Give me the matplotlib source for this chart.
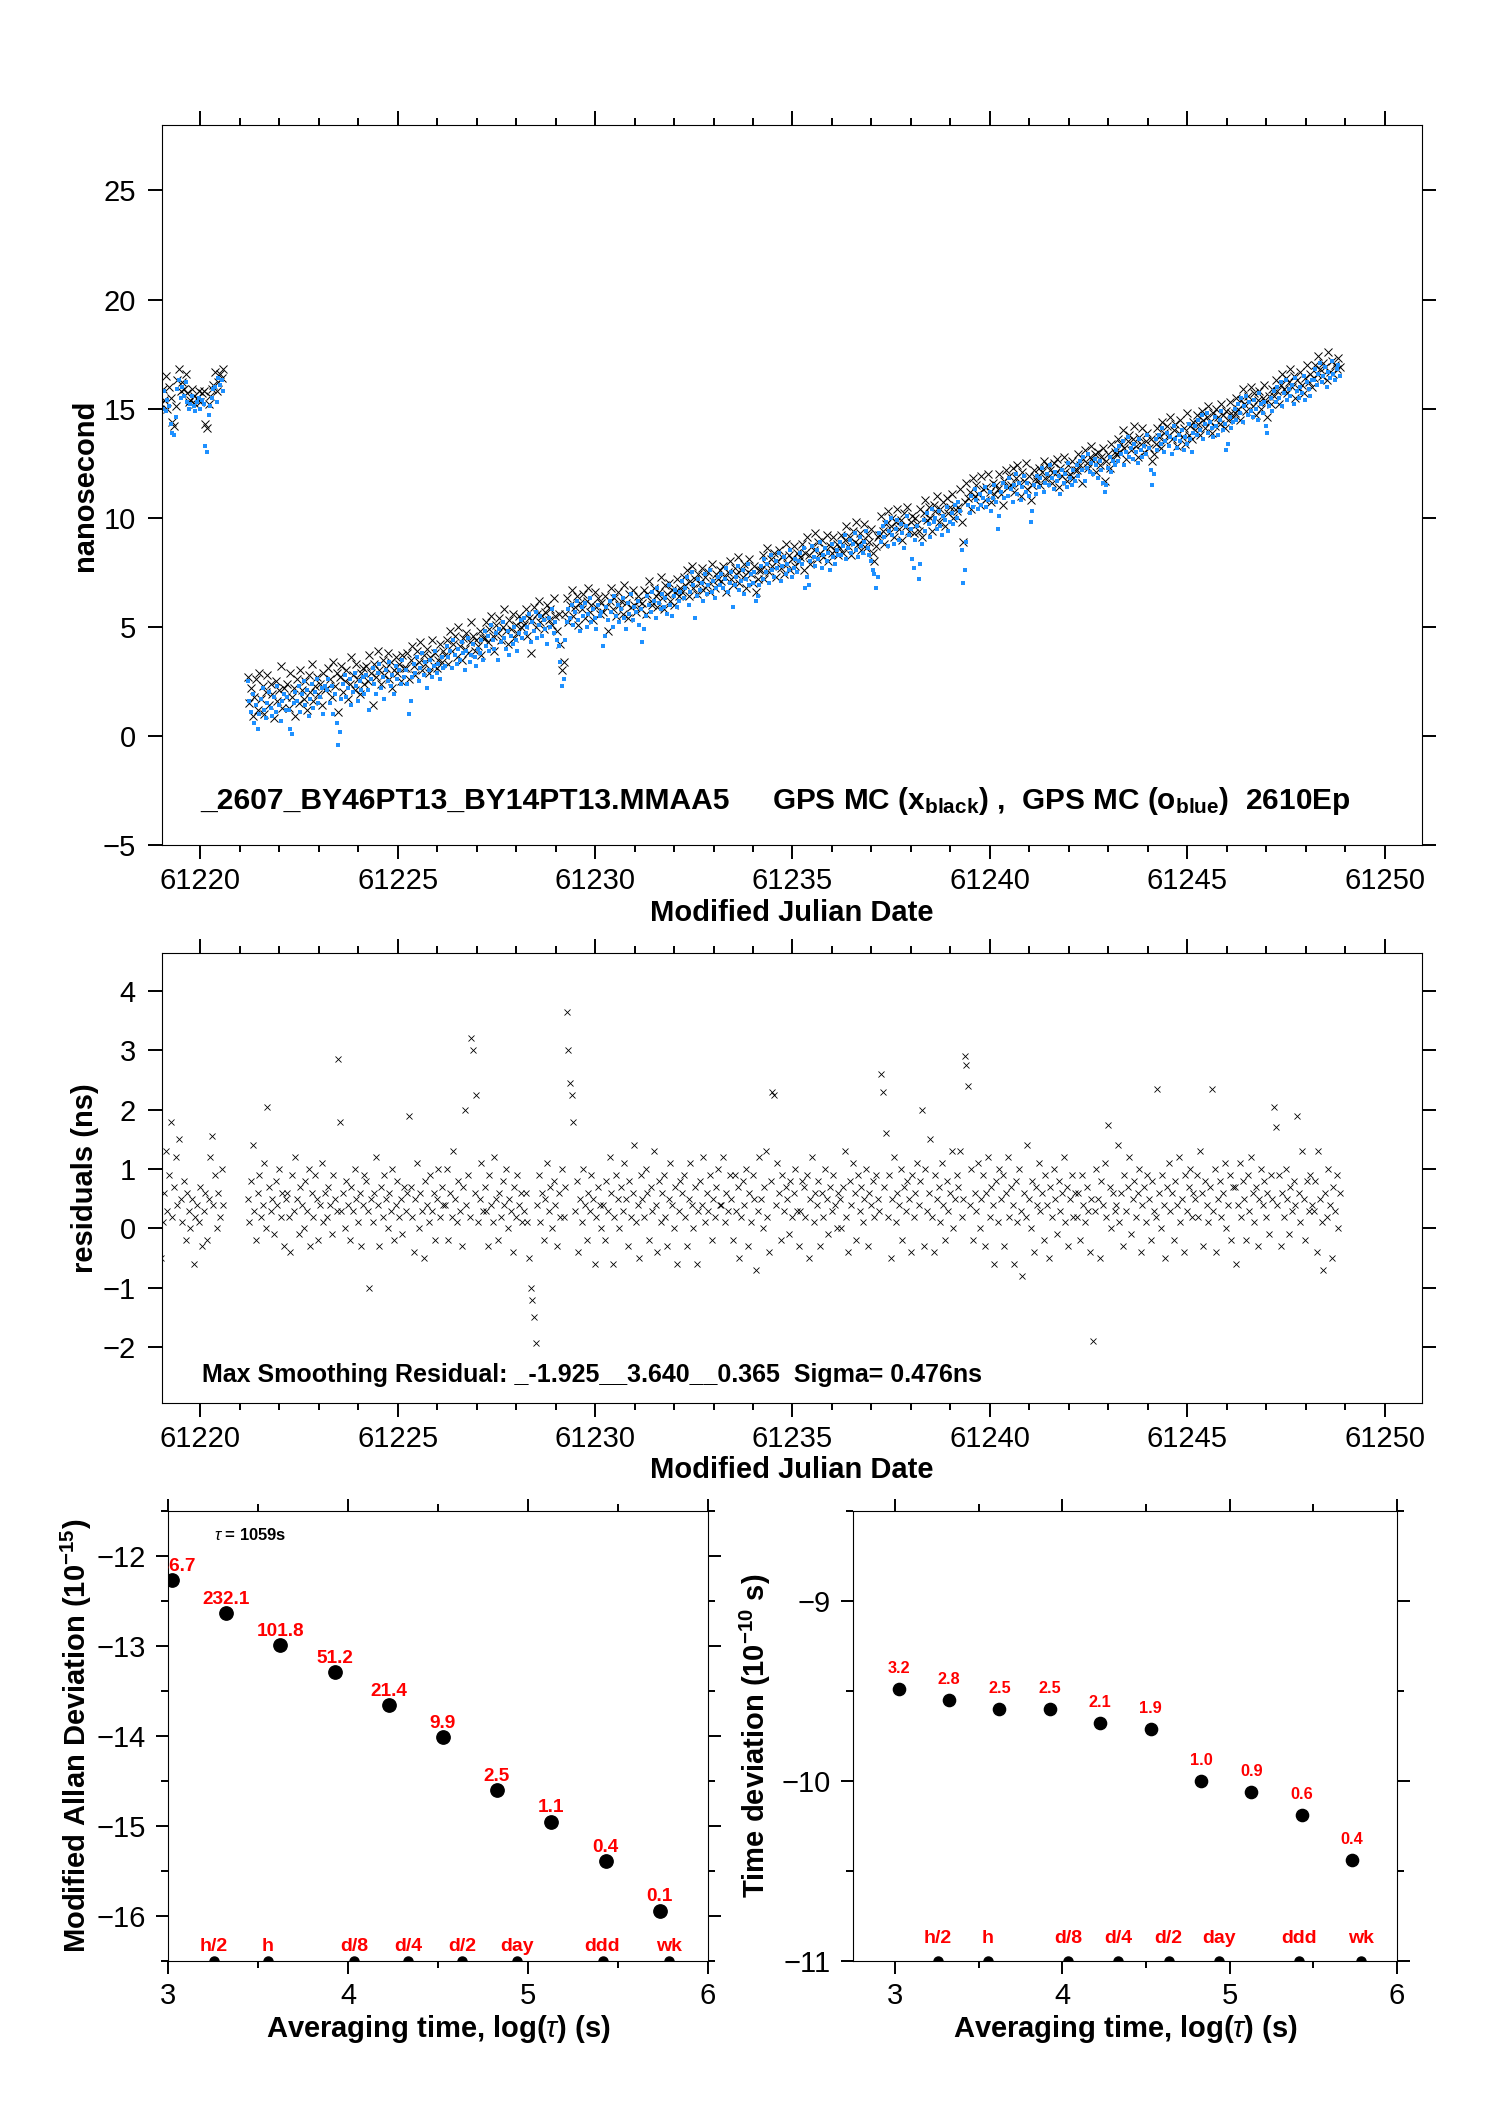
#!/usr/bin/python3

import numpy as np
import matplotlib
matplotlib.use('Agg')
import matplotlib.pyplot as plt
from matplotlib.ticker import MultipleLocator


# spacing of the plotted samples (days)
step_days = 1.0 / 24.0

# short first run, MJD 61219.0 - 61220.6 (ns)
run1_start = 61219.0
run1_black = [15.2, 15.9, 15.4, 16.5, 15.0, 16.0, 15.5, 14.4, 14.2, 15.1, 16.3, 16.8, 15.8,
              16.2, 15.9, 16.6, 15.7, 15.3, 15.4, 15.9, 15.6, 15.2, 15.5, 15.8, 15.3, 15.7,
              15.8, 14.3, 14.1, 15.2, 15.6, 15.9, 16.1, 16.7, 15.8, 16.2, 16.6, 16.4, 16.8]
run1_blue = [15.6, 15.0, 15.8, 14.9, 15.4, 15.1, 14.3, 13.9, 13.8, 14.6, 15.9, 16.3, 15.5,
             16.0, 15.6, 16.2, 15.3, 15.0, 15.2, 15.6, 15.1, 14.9, 15.3, 15.5, 15.0, 15.4,
             15.2, 13.3, 13.0, 14.7, 15.1, 15.5, 15.9, 16.0, 15.3, 16.4, 16.1, 16.3, 15.8]
run1_resid = [-0.5, 0.1, 0.6, 1.3, 0.3, 0.9, 1.8, 0.2, 0.7, 1.2, 0.4, 1.5, 0.5,
              0.1, 0.8, -0.2, 0.6, 0.3, 0.0, 0.5, -0.6, 0.2, 0.4, 0.1, 0.7, -0.3,
              0.3, 0.6, -0.2, 0.5, 1.2, 1.55, 0.4, 0.9, 0.0, 0.6, 0.2, 1.0, 0.4]

# main run, MJD 61221.2 - 61248.9 (ns), one row per day
run2_start = 61221.2
run2_black = [
    2.7, 1.5, 2.2, 0.9, 1.8, 2.6, 1.2, 2.9, 1.7, 2.3, 1.0, 2.0, 2.8, 1.4, 2.4, 1.9, 0.8, 2.5, 1.6, 2.1, 3.2, 1.3, 2.2, 1.8,
    2.4, 1.3, 2.9, 1.8, 2.2, 0.9, 2.6, 1.5, 3.0, 2.1, 1.7, 2.5, 1.2, 2.8, 2.0, 3.3, 1.6, 2.3, 2.7, 1.9, 2.4, 1.4, 2.9, 2.1,
    2.2, 3.1, 2.6, 1.8, 3.4, 2.3, 2.9, 1.1, 2.7, 3.2, 2.0, 2.5, 3.0, 1.7, 2.4, 3.6, 2.8, 2.1, 3.3, 2.6, 1.9, 2.9, 3.1, 2.4,
    3.2, 2.5, 3.7, 2.9, 1.4, 3.3, 2.7, 3.9, 3.0, 2.4, 3.5, 2.8, 3.1, 3.8, 2.6, 3.4, 2.2, 3.0, 3.6, 2.9, 3.3, 2.5, 3.7, 3.1,
    3.1, 3.8, 2.6, 3.5, 4.1, 3.2, 2.8, 3.9, 3.4, 4.3, 3.0, 3.7, 3.3, 4.0, 2.9, 3.6, 4.4, 3.2, 3.8, 3.1, 3.5, 4.2, 3.4, 3.9,
    3.7, 4.4, 3.3, 4.8, 3.9, 4.2, 4.6, 3.6, 5.0, 4.1, 3.5, 4.5, 4.0, 4.7, 3.8, 4.3, 5.2, 4.6, 3.9, 4.4, 4.1, 4.8, 3.7, 4.5,
    4.5, 5.2, 4.3, 4.9, 5.5, 4.6, 3.9, 5.1, 4.7, 5.4, 4.4, 5.0, 5.8, 4.8, 4.2, 5.3, 4.9, 5.6, 4.5, 5.1, 4.7, 5.5, 5.0, 5.3,
    5.1, 5.8, 4.6, 5.4, 3.8, 5.3, 5.9, 5.0, 5.6, 6.2, 5.2, 5.5, 4.9, 5.7, 6.0, 5.3, 5.8, 5.1, 6.3, 5.5, 4.8, 5.6, 4.2, 3.0,
    3.4, 5.6, 6.3, 5.2, 6.0, 6.7, 5.5, 5.9, 6.4, 5.1, 6.1, 5.8, 6.5, 5.4, 6.2, 6.8, 5.7, 6.0, 5.3, 6.6, 5.9, 6.3, 5.6, 6.1,
    5.7, 6.4, 5.9, 4.8, 6.2, 6.8, 5.8, 6.3, 5.5, 6.6, 6.0, 6.2, 5.6, 6.9, 6.1, 5.4, 6.5, 5.9, 6.7, 6.0, 5.7, 6.4, 6.2, 5.8,
    6.1, 6.7, 5.6, 6.5, 7.1, 6.2, 6.0, 6.8, 6.4, 5.9, 6.6, 7.3, 6.3, 5.8, 6.9, 6.5, 7.0, 6.2, 6.7, 6.0, 6.6, 7.2, 6.4, 6.8,
    6.6, 7.3, 6.9, 7.6, 6.4, 7.1, 7.8, 6.8, 7.2, 6.5, 7.4, 7.0, 7.7, 6.7, 7.3, 6.9, 7.5, 6.6, 7.9, 7.1, 6.8, 7.4, 7.2, 7.6,
    7.1, 7.8, 7.3, 6.6, 7.5, 8.0, 7.2, 6.9, 7.7, 7.4, 8.2, 7.0, 7.6, 7.3, 7.9, 6.8, 7.5, 8.1, 7.4, 7.0, 7.8, 6.6, 7.2, 7.6,
    7.6, 8.3, 7.2, 7.9, 8.6, 7.5, 8.1, 7.8, 8.4, 7.3, 8.0, 8.5, 7.7, 8.2, 7.4, 8.8, 7.9, 8.3, 7.6, 8.1, 8.7, 7.8, 8.4, 8.0,
    8.2, 8.8, 7.6, 8.4, 9.1, 8.3, 7.9, 8.7, 8.5, 9.3, 8.1, 8.9, 8.4, 9.0, 8.2, 8.6, 9.2, 8.0, 8.7, 8.4, 9.1, 8.5, 8.8, 8.3,
    8.6, 9.2, 8.4, 9.0, 9.6, 8.7, 9.1, 8.3, 9.4, 8.9, 9.8, 8.8, 9.3, 8.5, 9.0, 9.7, 8.6, 9.2, 8.9, 9.5, 8.4, 8.0, 8.7, 9.1,
    9.2, 10.1, 9.4, 8.8, 9.7, 10.3, 9.3, 9.6, 10.0, 9.1, 9.8, 10.4, 9.5, 9.9, 9.0, 10.2, 9.6, 10.5, 9.4, 9.8, 10.1, 9.3, 10.0, 9.7,
    9.4, 10.4, 9.1, 10.2, 10.8, 9.9, 10.5, 10.0, 9.4, 10.6, 10.3, 11.0, 9.8, 10.4, 10.1, 10.7, 9.6, 10.9, 10.2, 10.5, 11.1, 10.0, 10.6, 10.3,
    10.5, 11.3, 9.8, 8.9, 10.7, 11.6, 10.9, 11.2, 10.4, 11.8, 11.0, 11.5, 11.1, 10.6, 11.9, 11.3, 10.8, 11.4, 12.0, 11.2, 10.7, 11.6, 11.1, 11.5,
    11.3, 12.0, 11.1, 10.6, 11.7, 12.2, 11.4, 11.9, 11.5, 12.3, 11.2, 11.8, 12.4, 11.6, 11.0, 12.1, 11.7, 12.5, 11.3, 11.9, 10.8, 11.5, 12.2, 11.8,
    11.7, 12.3, 11.5, 12.1, 12.6, 11.8, 12.4, 11.9, 12.2, 11.6, 12.5, 12.0, 12.7, 11.4, 12.3, 11.9, 12.8, 12.1, 11.7, 12.4, 12.0, 12.6, 11.8, 12.2,
    12.2, 12.9, 12.4, 11.6, 12.7, 13.1, 12.5, 12.3, 12.8, 13.3, 12.6, 12.9, 12.1, 13.0, 12.4, 12.8, 13.2, 11.7, 12.6, 12.9, 12.3, 13.4, 12.7, 13.0,
    12.9, 13.6, 13.0, 13.4, 14.0, 13.2, 12.7, 13.5, 13.8, 13.1, 13.6, 14.2, 13.3, 12.8, 13.7, 13.4, 14.1, 13.0, 13.5, 13.9, 13.2, 13.6, 12.6, 12.9,
    13.4, 14.1, 13.7, 13.2, 14.4, 13.9, 13.5, 14.2, 13.8, 14.6, 13.6, 14.0, 14.3, 13.3, 13.9, 14.5, 13.7, 14.1, 13.4, 14.8, 13.8, 14.2, 13.6, 14.4,
    14.0, 14.7, 14.3, 13.8, 14.9, 14.5, 14.1, 14.6, 15.1, 14.4, 13.9, 14.8, 14.2, 15.0, 14.6, 14.3, 15.2, 14.7, 14.1, 14.9, 14.5, 15.3, 14.8, 14.6,
    14.8, 15.5, 15.0, 14.5, 15.4, 15.9, 15.2, 14.9, 15.6, 15.3, 16.0, 15.1, 15.7, 14.7, 15.4, 15.8, 15.0, 15.5, 16.1, 15.3, 14.6, 15.6, 15.2, 15.9,
    15.6, 16.3, 15.8, 15.2, 16.1, 16.6, 15.9, 16.4, 15.7, 16.2, 16.8, 16.0, 16.5, 15.5, 16.3, 15.9, 16.7, 16.1, 15.7, 16.4, 17.0, 16.2, 16.6, 16.0,
    16.4, 17.0, 16.6, 17.4, 16.8, 16.5, 17.1, 16.9, 16.3, 17.6, 16.7, 17.2, 16.6, 17.0, 16.8, 17.3, 16.9]
run2_blue = [
    2.5, 1.6, 1.1, 1.9, 0.6, 1.4, 0.3, 1.0, 1.7, 2.2, 1.2, 0.8, 1.5, 2.0, 1.3, 0.9, 1.8, 1.1, 2.3, 1.4, 0.7, 1.6, 1.9, 1.2,
    1.8, 1.2, 0.3, 0.1, 1.5, 2.0, 1.6, 2.3, 1.1, 1.9, 2.5, 1.4, 2.1, 0.9, 1.7, 2.4, 1.3, 2.0, 2.6, 1.5, 1.8, 2.2, 1.0, 2.3,
    2.1, 2.6, 1.5, 2.3, 1.0, 1.9, 0.6, -0.4, 0.2, 1.7, 2.4, 2.8, 1.8, 2.2, 2.6, 1.4, 2.0, 2.9, 2.3, 1.6, 2.5, 2.1, 2.7, 1.9,
    2.8, 2.1, 1.2, 2.6, 3.1, 2.4, 1.9, 2.9, 3.3, 2.2, 2.7, 1.7, 3.0, 2.5, 3.4, 2.3, 2.8, 1.9, 3.2, 2.6, 3.0, 2.4, 3.5, 2.7,
    3.0, 2.4, 1.0, 1.6, 2.7, 3.3, 2.9, 3.6, 2.5, 3.1, 3.8, 2.8, 3.4, 2.2, 3.0, 3.5, 2.7, 3.2, 3.9, 2.9, 3.3, 2.6, 3.6, 3.1,
    3.2, 4.1, 3.6, 3.9, 3.1, 4.4, 3.7, 3.3, 4.0, 3.5, 4.3, 3.8, 3.0, 3.9, 4.5, 3.4, 3.7, 4.2, 3.6, 3.2, 4.0, 3.8, 4.4, 3.5,
    4.8, 4.1, 4.6, 3.9, 5.1, 4.4, 4.0, 4.7, 3.5, 4.9, 4.3, 5.2, 4.5, 4.0, 4.8, 3.7, 4.6, 4.2, 5.0, 4.4, 3.9, 4.7, 5.3, 4.5,
    5.4, 4.7, 5.0, 5.6, 4.3, 5.2, 4.8, 5.7, 4.5, 5.1, 5.5, 4.6, 5.3, 4.9, 4.2, 5.4, 5.0, 5.8, 4.7, 5.2, 4.4, 4.1, 3.4, 2.3,
    2.6, 4.4, 5.2, 5.8, 5.4, 6.0, 5.1, 5.7, 6.2, 5.3, 4.8, 5.9, 5.5, 6.1, 5.0, 5.6, 6.3, 5.2, 5.8, 5.4, 4.9, 6.0, 5.5, 5.7,
    4.1, 4.6, 5.9, 5.3, 6.2, 5.7, 5.0, 6.4, 5.5, 6.0, 5.2, 5.8, 6.3, 5.4, 4.9, 6.1, 5.6, 6.5, 5.3, 5.9, 5.7, 6.2, 5.1, 5.8,
    4.3, 4.9, 5.5, 6.4, 6.0, 5.7, 6.6, 6.2, 5.4, 6.8, 6.1, 5.8, 6.5, 5.9, 6.3, 5.6, 6.9, 6.0, 5.5, 6.4, 6.7, 5.9, 6.2, 6.6,
    7.1, 6.3, 6.8, 7.3, 6.0, 6.6, 7.5, 6.9, 5.4, 6.4, 7.2, 6.7, 7.0, 6.2, 7.4, 6.5, 6.9, 7.6, 6.6, 7.1, 6.3, 6.8, 7.3, 6.9,
    7.4, 6.8, 7.2, 7.7, 6.6, 7.0, 7.5, 5.9, 6.9, 7.3, 7.8, 6.7, 7.1, 7.6, 6.5, 7.2, 7.9, 6.9, 7.4, 7.0, 7.5, 6.2, 6.4, 6.9,
    7.8, 7.2, 8.1, 7.5, 7.9, 7.0, 8.3, 7.6, 7.3, 8.0, 7.7, 8.4, 7.1, 7.8, 8.2, 7.4, 7.9, 7.6, 8.5, 7.3, 7.7, 8.1, 7.5, 8.0,
    8.4, 7.9, 8.6, 6.8, 7.3, 6.9, 8.0, 8.7, 8.2, 7.8, 8.5, 8.1, 8.9, 7.7, 8.3, 8.6, 8.0, 8.4, 7.6, 8.8, 8.2, 7.9, 8.5, 8.3,
    8.9, 8.3, 8.7, 9.2, 8.1, 8.6, 9.0, 8.4, 8.8, 9.3, 8.5, 8.2, 9.1, 8.7, 8.4, 8.9, 9.4, 8.6, 8.3, 8.0, 7.6, 7.4, 6.8, 7.3,
    9.3, 8.9, 9.6, 9.1, 9.8, 8.7, 9.4, 10.0, 9.2, 8.8, 9.5, 9.9, 9.0, 9.7, 9.3, 8.6, 9.6, 10.1, 9.2, 9.5, 8.1, 7.7, 9.0, 9.6,
    7.2, 7.9, 8.8, 9.9, 9.4, 10.2, 9.7, 9.1, 10.4, 9.8, 10.0, 9.5, 10.3, 9.6, 9.2, 10.1, 9.9, 10.5, 9.4, 9.8, 10.2, 9.7, 10.6, 10.0,
    10.7, 10.3, 8.5, 7.0, 7.6, 8.9, 10.6, 10.2, 11.0, 10.5, 11.3, 10.8, 10.4, 11.1, 10.6, 10.9, 11.4, 10.5, 10.8, 11.2, 10.3, 10.9, 11.5, 10.7,
    9.5, 10.1, 11.2, 11.6, 10.9, 11.4, 11.0, 11.8, 11.3, 10.7, 11.5, 12.0, 11.1, 11.6, 10.8, 11.4, 11.9, 11.2, 11.6, 11.0, 9.8, 10.3, 11.5, 11.1,
    11.9, 11.4, 11.8, 12.3, 11.2, 11.6, 12.0, 11.5, 12.4, 11.8, 11.3, 12.1, 11.7, 11.9, 11.1, 12.2, 11.6, 12.0, 11.4, 12.5, 11.8, 11.5, 12.2, 11.7,
    12.4, 11.9, 12.6, 12.2, 12.8, 11.7, 12.3, 12.9, 12.1, 12.5, 12.0, 12.7, 12.4, 11.8, 12.6, 12.2, 11.6, 11.2, 11.5, 12.3, 12.8, 12.1, 12.6, 12.4,
    13.1, 12.6, 13.3, 12.9, 13.5, 12.4, 13.0, 13.7, 12.8, 13.2, 12.7, 13.4, 13.0, 12.5, 13.6, 13.1, 12.8, 13.3, 12.9, 13.8, 13.2, 12.2, 11.5, 12.0,
    13.6, 13.1, 13.8, 13.4, 14.1, 13.0, 13.5, 13.9, 13.3, 13.7, 12.9, 14.2, 13.6, 13.2, 13.8, 13.5, 14.0, 13.1, 13.7, 13.4, 14.3, 13.6, 13.0, 13.9,
    14.2, 13.8, 14.5, 14.0, 14.7, 13.6, 14.3, 14.8, 13.9, 14.4, 14.1, 13.7, 14.6, 14.2, 13.8, 14.5, 14.9, 14.0, 14.3, 13.1, 13.4, 14.6, 14.1, 14.4,
    15.0, 14.5, 15.2, 14.8, 15.5, 14.4, 15.1, 15.6, 14.7, 15.3, 14.9, 14.6, 15.4, 15.0, 14.5, 15.7, 15.2, 14.8, 15.3, 14.2, 13.9, 15.1, 15.5, 14.9,
    15.8, 15.3, 16.0, 15.5, 16.2, 15.1, 15.7, 16.3, 15.4, 15.9, 15.6, 16.1, 15.2, 16.4, 15.8, 15.5, 16.0, 15.7, 16.5, 15.4, 16.2, 15.9, 15.6, 16.3,
    16.3, 16.8, 16.1, 16.6, 17.1, 16.2, 16.5, 16.9, 16.0, 16.7, 16.4, 17.2, 16.6, 16.3, 16.8, 17.0, 16.5]
run2_resid = [
    0.5, 0.1, 0.8, 1.4, 0.3, -0.2, 0.6, 0.9, 0.2, 0.4, 1.1, 0.0, 2.05, 0.7, 0.3, 0.5, -0.1, 0.8, 0.4, 1.0, 0.2, 0.6, -0.3, 0.5,
    0.6, 0.2, -0.4, 0.9, 0.3, 1.2, 0.5, -0.1, 0.7, 0.4, 0.0, 0.8, 0.3, 1.0, -0.3, 0.6, 0.2, 0.9, 0.5, -0.2, 0.4, 1.1, 0.1, 0.6,
    0.2, 0.7, 0.4, -0.1, 0.9, 0.5, 0.3, 2.85, 1.8, 0.3, 0.6, 0.0, 0.8, 0.4, -0.2, 0.7, 0.3, 1.0, 0.5, 0.1, 0.6, -0.3, 0.4, 0.9,
    0.8, 0.3, -1.0, 0.5, 0.1, 0.6, 1.2, 0.4, -0.3, 0.7, 0.2, 0.9, 0.5, 0.0, 0.6, 0.3, 1.0, -0.2, 0.4, 0.8, 0.2, 0.5, -0.1, 0.7,
    0.3, 0.6, 1.9, 0.7, 0.2, -0.4, 0.5, 1.1, 0.0, 0.6, 0.3, -0.5, 0.8, 0.4, 0.1, 0.9, 0.3, 0.6, -0.2, 0.5, 1.0, 0.2, 0.7, 0.4,
    0.4, 1.0, -0.2, 0.6, 0.2, 1.3, 0.5, 0.1, 0.8, 0.3, -0.3, 0.7, 2.0, 0.4, 0.9, 0.2, 3.2, 3.0, 0.6, 2.25, 0.1, 0.5, 1.1, 0.3,
    0.7, 0.3, -0.3, 0.9, 0.4, 0.1, 1.2, 0.5, -0.2, 0.6, 0.2, 0.8, 0.4, 1.0, 0.0, 0.5, 0.3, -0.4, 0.7, 0.2, 0.9, 0.4, 0.6, 0.1,
    0.3, 0.6, 0.1, -0.5, -1.0, -1.2, -1.5, -1.93, 0.4, 0.9, 0.1, 0.6, -0.2, 0.5, 1.1, 0.3, 0.7, 0.0, 0.8, 0.4, -0.3, 0.6, 0.2, 1.0,
    0.2, 0.7, 3.64, 3.0, 2.45, 2.25, 1.8, 0.3, 0.8, -0.4, 0.5, 0.1, 1.0, 0.4, -0.2, 0.6, 0.3, 0.9, 0.5, -0.6, 0.2, 0.7, 0.4, 0.0,
    0.4, -0.2, 0.8, 0.3, 1.2, 0.6, -0.6, 0.2, 0.9, 0.5, 0.0, 0.7, 0.3, 1.1, 0.5, -0.3, 0.8, 0.2, 0.6, 1.4, 0.1, 0.4, -0.5, 0.9,
    0.5, 0.2, 1.0, 0.6, -0.2, 0.7, 0.3, 1.3, 0.4, -0.4, 0.8, 0.1, 0.6, 0.9, 0.2, -0.3, 0.5, 1.1, 0.4, 0.0, 0.7, -0.6, 0.3, 0.8,
    0.6, 0.9, 0.2, -0.3, 0.5, 1.1, 0.4, 0.0, 0.7, -0.6, 0.3, 0.8, 0.4, 1.2, 0.1, 0.6, 0.3, 0.9, -0.2, 0.5, 0.2, 0.7, 1.0, 0.4,
    0.4, 1.2, 0.1, 0.6, 0.3, 0.9, 0.5, -0.2, 0.9, 0.3, 0.7, -0.5, 0.2, 0.8, 0.4, 1.0, -0.3, 0.6, 0.1, 0.9, 0.5, -0.7, 0.3, 1.2,
    0.5, 0.0, 0.7, 1.3, 0.2, -0.4, 0.8, 2.3, 2.25, 0.4, 1.1, 0.6, -0.2, 0.9, 0.3, 0.7, 0.5, -0.1, 0.8, 0.2, 0.6, 1.0, 0.3, -0.3,
    0.3, 0.8, 0.7, 0.2, 0.9, -0.5, 0.5, 1.2, 0.1, 0.6, 0.4, 0.8, -0.3, 0.6, 0.2, 1.0, 0.5, -0.1, 0.7, 0.3, 0.9, 0.4, 0.0, 0.6,
    0.5, 0.0, 0.7, 1.3, 0.2, -0.4, 0.8, 0.4, 1.1, 0.6, -0.2, 0.9, 0.3, 0.7, 0.1, 0.5, 1.0, -0.3, 0.6, 0.4, 0.8, 0.2, 0.9, 0.5,
    0.3, 2.6, 2.3, 0.7, 1.6, 0.2, 0.9, -0.5, 0.5, 1.2, 0.1, 0.6, 0.4, 1.0, -0.2, 0.7, 0.3, 0.8, 0.5, -0.4, 0.9, 0.2, 0.6, 1.1,
    0.4, 0.8, 2.0, -0.3, 1.0, 0.3, 0.6, 1.5, 0.2, -0.4, 0.9, 0.5, 0.7, 0.1, 1.1, 0.4, -0.2, 0.8, 0.3, 0.6, 1.3, 0.0, 0.5, 0.9,
    0.7, 1.3, 0.2, 0.5, 2.9, 2.75, 2.4, 0.4, 1.0, -0.2, 0.6, 0.3, 1.1, 0.0, 0.5, 0.9, -0.3, 0.6, 1.2, 0.2, 0.7, 0.4, -0.6, 0.8,
    0.1, 1.0, 0.5, 0.9, -0.3, 0.6, 1.2, 0.2, 0.7, 0.4, -0.6, 0.8, 0.1, 1.0, 0.3, -0.8, 0.6, 0.2, 1.4, 0.5, 0.0, 0.8, -0.4, 0.7,
    0.4, 1.1, 0.3, 0.6, -0.2, 0.9, 0.4, -0.5, 0.7, 0.2, 1.0, 0.5, -0.1, 0.8, 0.3, 0.6, 1.2, 0.1, 0.7, -0.3, 0.5, 0.9, 0.2, 0.6,
    0.2, 0.6, -0.2, 0.9, 0.4, 0.1, 0.7, 0.3, -0.4, 0.5, -1.9, 0.3, 1.0, 0.5, -0.5, 0.8, 0.4, 1.1, 0.2, 1.75, 0.7, 0.0, 0.6, 0.3,
    0.4, 1.4, 0.1, 0.6, -0.3, 0.9, 0.3, 0.7, 1.2, -0.1, 0.5, 0.8, 0.2, 0.6, 1.0, -0.4, 0.4, 0.7, 0.1, 0.9, 0.5, -0.2, 0.8, 0.3,
    0.2, 2.35, 0.6, 0.0, 0.9, 0.4, -0.5, 0.7, 1.1, 0.3, 0.6, -0.2, 0.8, 0.4, 1.2, 0.1, 0.5, -0.4, 0.9, 0.3, 0.7, 1.0, 0.2, 0.6,
    0.5, 0.9, 0.2, 1.3, 0.6, -0.3, 0.8, 0.4, 0.1, 0.7, 2.35, 0.3, 1.0, -0.4, 0.5, 0.8, 0.2, 0.6, 1.1, 0.0, 0.4, 0.9, -0.2, 0.7,
    0.7, -0.6, 0.4, 1.1, 0.2, 0.8, 0.5, -0.2, 0.9, 0.3, 1.2, 0.6, 0.1, 0.7, -0.3, 0.5, 1.0, 0.4, 0.8, 0.2, 0.6, -0.1, 0.9, 0.5,
    2.05, 1.7, 0.4, 0.9, -0.3, 0.6, 0.2, 1.0, 0.5, -0.1, 0.7, 0.3, 0.8, 0.4, 1.9, 0.6, 0.1, 1.3, 0.5, -0.2, 0.8, 0.3, 0.9, 0.4,
    0.3, 0.8, -0.4, 1.3, 0.5, 0.1, -0.7, 0.6, 0.2, 1.0, 0.4, -0.5, 0.7, 0.3, 0.9, 0.0, 0.6]

# modified allan deviation: log10(tau/s) and log10(mdev)
mdev_logtau = [3.023, 3.325, 3.625, 3.927, 4.227, 4.527, 4.827, 5.129, 5.431, 5.731]
mdev_logval = [-12.27, -12.63, -12.99, -13.29, -13.66, -14.01, -14.60, -14.95, -15.39, -15.94]
mdev_labels = ['536.7', '232.1', '101.8', '51.2', '21.4', '9.9', '2.5', '1.1', '0.4', '0.1']

# time deviation: log10(tau/s) and log10(tdev/s)
tdev_logtau = [3.022, 3.323, 3.624, 3.925, 4.226, 4.527, 4.828, 5.129, 5.430, 5.731]
tdev_logval = [-9.49, -9.55, -9.60, -9.60, -9.68, -9.71, -10.00, -10.06, -10.19, -10.44]
tdev_labels = ['3.2', '2.8', '2.5', '2.5', '2.1', '1.9', '1.0', '0.9', '0.6', '0.4']

# reference averaging times marked along the bottom
ref_logtau = [3.255, 3.556, 4.033, 4.334, 4.635, 4.937, 5.414, 5.782]
ref_names = ['h/2', 'h', 'd/8', 'd/4', 'd/2', 'day', 'ddd', 'wk']

blue = '#1e90ff'


def times(start, values):
	''' sample times for a run of data'''
	return start + step_days * np.arange(len(values))


def frame(ax, len_major, len_minor, pad_x, pad_y):
	''' ticks outside on all four sides'''
	ax.tick_params(which='both', direction='out', top=True, right=True,
	               width=1.4, labelsize=21)
	ax.tick_params(which='major', length=len_major)
	ax.tick_params(which='minor', length=len_minor)
	ax.tick_params(axis='x', pad=pad_x)
	ax.tick_params(axis='y', pad=pad_y)
	for spine in ax.spines.values():
		spine.set_linewidth(0.8)


def plot_phase(ax):
	''' raw time differences'''
	for start, black, bl in [(run1_start, run1_black, run1_blue),
	                         (run2_start, run2_black, run2_blue)]:
		t = times(start, black)
		ax.plot(t, black, ls='none', marker='x', ms=5.5, mew=0.7, color='black')
		ax.plot(t, bl, ls='none', marker='s', ms=3.4, mew=0, color=blue)

	ax.set_xlim(61219.03, 61250.95)
	ax.set_ylim(-5, 28)
	ax.xaxis.set_major_locator(MultipleLocator(5))
	ax.xaxis.set_minor_locator(MultipleLocator(1))
	ax.yaxis.set_major_locator(MultipleLocator(5))
	frame(ax, 10, 5, 6, 9)

	ax.set_ylabel('nanosecond', fontsize=21, fontweight='bold')
	ax.yaxis.set_label_coords(-0.050, 0.5)
	ax.set_xlabel('Modified Julian Date', fontsize=21, fontweight='bold', va='center')
	ax.xaxis.set_label_coords(0.5, -0.094)

	ax.text(61220.0, -3.35, '_2607_BY46PT13_BY14PT13.MMAA5',
	        fontsize=21.6, fontweight='bold', va='baseline')
	ax.text(61234.48, -3.35,
	        r'GPS MC (x$_{\mathbf{black}}$) ,  GPS MC (o$_{\mathbf{blue}}$)  2610Ep',
	        fontsize=21.4, fontweight='bold', va='baseline')


def plot_residuals(ax):
	''' residuals of the smoothing'''
	for start, res in [(run1_start, run1_resid), (run2_start, run2_resid)]:
		ax.plot(times(start, res), res, ls='none', marker='x', ms=4.8,
		        mew=0.6, color='black')

	ax.set_xlim(61219.03, 61250.95)
	ax.set_ylim(-2.94, 4.64)
	ax.xaxis.set_major_locator(MultipleLocator(5))
	ax.xaxis.set_minor_locator(MultipleLocator(1))
	ax.yaxis.set_major_locator(MultipleLocator(1))
	frame(ax, 10, 5, 6, 9)

	ax.set_ylabel('residuals (ns)', fontsize=21, fontweight='bold')
	ax.yaxis.set_label_coords(-0.050, 0.5)
	ax.set_xlabel('Modified Julian Date', fontsize=21, fontweight='bold', va='center')
	ax.xaxis.set_label_coords(0.5, -0.149)

	ax.text(61220.04, -2.59,
	        'Max Smoothing Residual: _-1.925__3.640__0.365  Sigma= 0.476ns',
	        fontsize=18, fontweight='bold', va='baseline')


def plot_stability(ax, logtau, logval, labels, ms, label_size, label_off,
                   ref_off, xlim, ylim):
	''' stability points with value labels and reference times'''
	ax.plot(logtau, logval, ls='none', marker='o', ms=ms, color='black')
	for x, y, lab in zip(logtau, logval, labels):
		ax.annotate(lab, (x, y), xytext=(0, label_off), textcoords='offset points',
		            ha='center', va='baseline', color='red', fontsize=label_size,
		            fontweight='bold', clip_on=True)

	# reference averaging times sit on the bottom axis
	ax.plot(ref_logtau, [ylim[0]] * len(ref_logtau), ls='none', marker='o',
	        ms=6.5, color='black')
	for x, name in zip(ref_logtau, ref_names):
		ax.annotate(name, (x, ylim[0]), xytext=(0, ref_off), textcoords='offset points',
		            ha='center', va='baseline', color='red', fontsize=14,
		            fontweight='bold')

	ax.set_xlim(*xlim)
	ax.set_ylim(*ylim)
	ax.xaxis.set_major_locator(MultipleLocator(1))
	ax.xaxis.set_minor_locator(MultipleLocator(0.5))
	ax.yaxis.set_major_locator(MultipleLocator(1))
	ax.yaxis.set_minor_locator(MultipleLocator(0.5))
	frame(ax, 9, 5, 6, 7)
	ax.set_xlabel(r'Averaging time, log($\tau$) (s)', fontsize=21,
	              fontweight='bold', va='center')
	ax.xaxis.set_label_coords(0.5, -0.151)


def main():
	''' main function'''

	plt.rcParams['font.family'] = ['Liberation Sans', 'DejaVu Sans']
	plt.rcParams['mathtext.fontset'] = 'custom'
	plt.rcParams['mathtext.rm'] = 'Liberation Sans'
	plt.rcParams['mathtext.bf'] = 'Liberation Sans:bold'
	plt.rcParams['mathtext.it'] = 'Liberation Sans:italic'

	fig = plt.figure(figsize=(14.88, 21.05), dpi=100)

	ax_top = fig.add_axes([0.1089, 0.5986, 0.8468, 0.3420])
	ax_res = fig.add_axes([0.1089, 0.3335, 0.8468, 0.2138])
	ax_mdev = fig.add_axes([0.1129, 0.0684, 0.3629, 0.2138])
	ax_tdev = fig.add_axes([0.5733, 0.0684, 0.3656, 0.2138])

	plot_phase(ax_top)
	plot_residuals(ax_res)

	plot_stability(ax_mdev, mdev_logtau, mdev_logval, mdev_labels, 9.6, 13.7, 6.6,
	               7, (3, 6), (-16.5, -11.5))
	ax_mdev.set_ylabel(r'Modified Allan Deviation (10$^{\mathbf{-15}}$)',
	                   fontsize=21, fontweight='bold')
	ax_mdev.yaxis.set_label_coords(-0.137, 0.5)
	ax_mdev.text(3.253, -11.77, r'$\tau$ = 1059s', fontsize=12,
	             fontweight='bold', va='center')

	plot_stability(ax_tdev, tdev_logtau, tdev_logval, tdev_labels, 8.8, 11.7, 11.5,
	               13, (2.75, 6), (-11, -8.5))
	ax_tdev.set_ylabel(r'Time deviation (10$^{\mathbf{-10}}$ s)',
	                   fontsize=21, fontweight='bold')
	ax_tdev.yaxis.set_label_coords(-0.147, 0.5)

	fig.savefig('out.png', dpi=100)


if __name__ == '__main__':
	main()
